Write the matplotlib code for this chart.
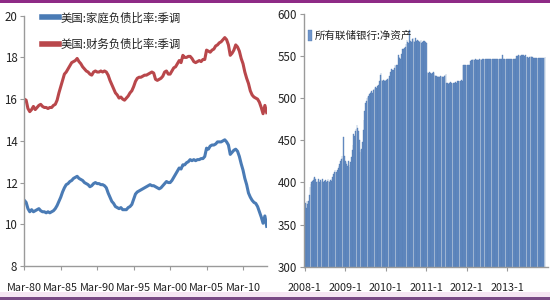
import matplotlib
matplotlib.use("Agg")
import matplotlib.pyplot as plt
from matplotlib.lines import Line2D
from matplotlib.patches import Rectangle
import numpy as np

plt.rcParams['font.family'] = ['Liberation Sans Narrow', 'Noto Sans CJK SC', 'DejaVu Sans']

# ---------------- Left panel data (quarterly, from Mar-80) ----------------
left_tick_labels = ["Mar-80", "Mar-85", "Mar-90", "Mar-95", "Mar-00", "Mar-05", "Mar-10"]
household_name = "美国:家庭负债比率:季调"
financial_name = "美国:财务负债比率:季调"

financial = [
    16.0, 15.95, 15.55, 15.4,   # 1980
    15.5, 15.65, 15.5, 15.6,    # 1981
    15.7, 15.75, 15.65, 15.6,   # 1982
    15.6, 15.55, 15.6, 15.6,    # 1983
    15.7, 15.75, 15.95, 16.3,   # 1984
    16.6, 16.9, 17.2, 17.3,     # 1985
    17.45, 17.6, 17.75, 17.8,   # 1986
    17.85, 17.95, 17.8, 17.7,   # 1987
    17.55, 17.45, 17.35, 17.3,  # 1988
    17.2, 17.15, 17.3, 17.35,   # 1989
    17.3, 17.3, 17.35, 17.3,    # 1990
    17.35, 17.3, 17.15, 16.9,   # 1991
    16.7, 16.5, 16.3, 16.2,     # 1992
    16.05, 16.1, 16.0, 15.95,   # 1993
    16.05, 16.15, 16.3, 16.4,   # 1994
    16.6, 16.85, 17.0, 17.05,   # 1995
    17.05, 17.1, 17.15, 17.15,  # 1996
    17.2, 17.25, 17.3, 17.25,   # 1997
    16.95, 16.9, 16.95, 17.0,   # 1998
    17.1, 17.3, 17.35, 17.2,    # 1999
    17.2, 17.35, 17.5, 17.55,   # 2000
    17.7, 17.85, 17.75, 18.1,   # 2001
    18.0, 18.0, 18.05, 18.05,   # 2002
    17.95, 17.8, 17.75, 17.8,   # 2003
    17.85, 17.8, 17.9, 17.9,    # 2004
    18.35, 18.3, 18.25, 18.35,  # 2005
    18.4, 18.55, 18.6, 18.7,    # 2006
    18.75, 18.85, 18.95, 18.85, # 2007
    18.6, 18.1, 18.2, 18.35,    # 2008
    18.6, 18.5, 18.3, 17.95,    # 2009
    17.7, 17.3, 17.0, 16.75,    # 2010
    16.4, 16.2, 16.1, 16.05,    # 2011
    16.0, 15.85, 15.6, 15.3,    # 2012
    15.7, 15.35,                # 2013
]

household = [
    11.15, 11.05, 10.75, 10.6,  # 1980
    10.7, 10.6, 10.65, 10.7,    # 1981
    10.75, 10.65, 10.6, 10.6,   # 1982
    10.55, 10.6, 10.55, 10.6,   # 1983
    10.65, 10.75, 10.9, 11.1,   # 1984
    11.3, 11.55, 11.75, 11.9,   # 1985
    11.95, 12.05, 12.1, 12.2,   # 1986
    12.25, 12.3, 12.2, 12.15,   # 1987
    12.1, 12.0, 11.95, 11.9,    # 1988
    11.8, 11.85, 11.95, 12.0,   # 1989
    11.95, 11.95, 11.9, 11.9,   # 1990
    11.85, 11.75, 11.5, 11.3,   # 1991
    11.1, 11.0, 10.85, 10.8,    # 1992
    10.75, 10.8, 10.7, 10.7,    # 1993
    10.7, 10.8, 10.85, 10.95,   # 1994
    11.2, 11.45, 11.55, 11.6,   # 1995
    11.65, 11.7, 11.75, 11.8,   # 1996
    11.85, 11.9, 11.85, 11.85,  # 1997
    11.8, 11.75, 11.7, 11.75,   # 1998
    11.85, 11.95, 12.05, 12.0,  # 1999
    12.0, 12.1, 12.25, 12.4,    # 2000
    12.55, 12.7, 12.65, 12.85,  # 2001
    12.85, 12.95, 13.0, 13.1,   # 2002
    13.05, 13.1, 13.05, 13.1,   # 2003
    13.1, 13.15, 13.15, 13.25,  # 2004
    13.65, 13.6, 13.75, 13.8,   # 2005
    13.8, 13.85, 13.95, 13.95,  # 2006
    13.95, 14.0, 14.05, 13.95,  # 2007
    13.8, 13.35, 13.45, 13.55,  # 2008
    13.6, 13.5, 13.25, 12.9,    # 2009
    12.6, 12.2, 11.9, 11.5,     # 2010
    11.3, 11.15, 11.05, 11.0,   # 2011
    10.85, 10.6, 10.35, 10.05,  # 2012
    10.4, 9.9,                  # 2013
]

# ---------------- Right panel data (weekly, from 2008-1) ----------------
right_tick_labels = ["2008-1", "2009-1", "2010-1", "2011-1", "2012-1", "2013-1"]
net_assets_name = "所有联储银行:净资产"
net_assets = [
    # 2008
    372, 376, 370, 378, 375, 378, 385, 395, 398, 400, 402, 403, 405,
    407, 404, 401, 400, 402, 404, 401, 403, 402, 400, 404, 401, 402,
    402, 403, 401, 402, 404, 402, 401, 403, 402, 404, 406, 410, 412,
    415, 413, 412, 415, 417, 420, 422, 425, 428, 431, 429, 454, 432,
    # 2009
    426, 424, 422, 420, 425, 421, 418, 424, 430, 438, 445, 458, 455,
    461, 463, 468, 465, 461, 450, 436, 438, 440, 448, 462, 474, 485,
    494, 497, 500, 502, 503, 505, 506, 507, 508, 506, 510, 511, 512,
    513, 512, 514, 514, 516, 520, 527, 530, 522, 521, 522, 520, 522,
    # 2010
    521, 522, 523, 522, 524, 526, 531, 535, 532, 533, 534, 536, 539,
    538, 539, 540, 551, 549, 548, 547, 552, 559, 558, 559, 560, 561,
    564, 569, 567, 565, 581, 567, 568, 567, 570, 571, 568, 567, 571,
    568, 567, 569, 568, 567, 568, 569, 566, 567, 568, 567, 568, 567,
    # 2011
    566, 531, 530, 530, 531, 530, 530, 529, 530, 531, 530, 527, 526,
    526, 525, 526, 525, 525, 526, 525, 526, 525, 525, 526, 527, 529,
    518, 518, 517, 518, 518, 519, 518, 518, 517, 518, 518, 519, 518,
    518, 520, 521, 521, 520, 521, 522, 521, 539, 540, 539, 540, 539,
    # 2012
    540, 539, 540, 539, 540, 544, 545, 545, 546, 545, 545, 546, 545,
    546, 545, 545, 546, 545, 546, 545, 546, 547, 546, 547, 546, 547,
    546, 547, 547, 546, 547, 546, 547, 547, 546, 547, 547, 546, 547,
    547, 546, 547, 547, 546, 547, 547, 551, 547, 546, 547, 546, 547,
    # 2013
    546, 547, 546, 547, 546, 546, 547, 546, 547, 546, 547, 548, 550,
    550, 551, 550, 551, 550, 551, 551, 550, 551, 550, 551, 549, 549,
    549, 548, 549, 549, 550, 549, 549, 548, 548, 548, 548, 548, 548,
    548, 548, 548, 548, 548, 548, 548, 548, 548, 549,
]

BLUE = "#4a7bb5"
RED = "#b9474b"
BAR = "#6f95cb"
AXC = "#9a9a9a"
TXT = "#222222"

fig = plt.figure(figsize=(5.5, 3.0), dpi=100)
fig.patch.set_facecolor("white")

# frame decoration: purple line at top, pink band + purple line at bottom
fig.add_artist(Rectangle((0, 1 - 2.5 / 300), 1, 2.5 / 300, transform=fig.transFigure,
                         facecolor="#8e2a86", edgecolor="none", zorder=10))
fig.add_artist(Rectangle((0, 3 / 300), 1, 5 / 300, transform=fig.transFigure,
                         facecolor="#f6e6f3", edgecolor="none", zorder=0))
fig.add_artist(Rectangle((0, 0), 1, 3 / 300, transform=fig.transFigure,
                         facecolor="#7a4a86", edgecolor="none", zorder=10))


def style_axes(ax):
    for s in ("top", "right"):
        ax.spines[s].set_visible(False)
    for s in ("left", "bottom"):
        ax.spines[s].set_color(AXC)
        ax.spines[s].set_linewidth(1.0)
    ax.tick_params(axis="both", direction="out", length=3, width=0.8, color=AXC,
                   labelsize=8.3, labelcolor=TXT, pad=2)
    ax.tick_params(axis="x", pad=9, labelsize=7.8)
    ax.set_facecolor("none")


# ---------------- Left panel ----------------
axL = fig.add_axes([24.3 / 550, 1 - 266 / 300, (266.7 - 24.3) / 550, (266 - 15.7) / 300])
xq = np.arange(len(household))
axL.plot(xq, household, color=BLUE, lw=2.2, solid_joinstyle="round")
axL.plot(xq, financial, color=RED, lw=2.2, solid_joinstyle="round")
axL.set_xlim(0, 133)
axL.set_ylim(8, 20)
axL.set_yticks([8, 10, 12, 14, 16, 18, 20])
axL.set_xticks(np.arange(len(left_tick_labels)) * 20)
axL.set_xticklabels(left_tick_labels)
style_axes(axL)
handlesL = [Line2D([], [], color=BLUE, lw=4), Line2D([], [], color=RED, lw=4)]
legL = axL.legend(handlesL, [household_name, financial_name], loc="upper left",
                  bbox_to_anchor=(0.03, 1.055), frameon=False,
                  handlelength=1.5, handletextpad=0.15, labelspacing=1.3,
                  prop={"family": ["Noto Sans CJK SC", "DejaVu Sans"], "size": 8.2})
for t in legL.get_texts():
    t.set_color(TXT)

# ---------------- Right panel ----------------
axR = fig.add_axes([304.3 / 550, 1 - 266.7 / 300, (548 - 304.3) / 550, (266.7 - 14) / 300])
xw = np.arange(len(net_assets))
axR.bar(xw, net_assets, width=0.85, color=BAR, edgecolor="#4a74ad",
        linewidth=0.25, label=net_assets_name)
axR.set_xlim(-0.5, 312)
axR.set_ylim(300, 600)
axR.set_yticks([300, 350, 400, 450, 500, 550, 600])
axR.set_xticks(np.arange(len(right_tick_labels)) * 52)
axR.set_xticklabels(right_tick_labels)
style_axes(axR)
legR = axR.legend(loc="upper left", bbox_to_anchor=(-0.025, 0.975), frameon=False,
                  handlelength=0.4, handleheight=1.3, handletextpad=0.3,
                  prop={"family": ["Noto Sans CJK SC", "DejaVu Sans"], "size": 7.6})
for t in legR.get_texts():
    t.set_color(TXT)

fig.savefig("out.png", dpi=100, facecolor=fig.get_facecolor())
